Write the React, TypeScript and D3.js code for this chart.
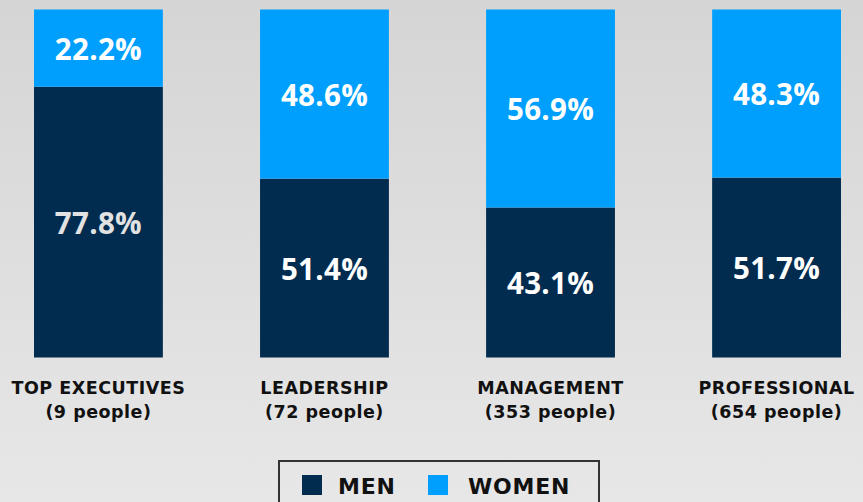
import React from "react";
import * as d3 from "d3";

const categories = ["TOP EXECUTIVES", "LEADERSHIP", "MANAGEMENT", "PROFESSIONAL"];
const subLabels = ["(9 people)", "(72 people)", "(353 people)", "(654 people)"];
const menValues = [77.8, 51.4, 43.1, 51.7];
const womenValues = [22.2, 48.6, 56.9, 48.3];
const seriesNames = ["MEN", "WOMEN"];

const W = 863;
const H = 502;
const MEN_COLOR = "#012c4f";
const WOMEN_COLOR = "#009ffd";
const FONT = "'Open Sans', 'DejaVu Sans', sans-serif";
const WIDE = "'DejaVu Sans', 'Open Sans', sans-serif";

export default function App() {
  const x = d3.scaleBand<string>().domain(categories).range([34, 841]).paddingInner(0.43).paddingOuter(0);
  const y = d3.scaleLinear().domain([0, 100]).range([357.5, 9.5]);

  const rows = categories.map((c, i) => ({ cat: c, men: menValues[i], women: womenValues[i] }));
  const stack = d3.stack<any>().keys(["men", "women"]);
  const series = stack(rows);
  const colors = [MEN_COLOR, WOMEN_COLOR];

  return (
    <svg width={W} height={H} style={{ position: "absolute", left: 0, top: 0, display: "block" }}>
      <defs>
        <linearGradient id="bg" x1="0" y1="0" x2="0" y2="1">
          <stop offset="0%" stopColor="#d5d5d5" />
          <stop offset="100%" stopColor="#e7e7e7" />
        </linearGradient>
      </defs>
      <rect x={0} y={0} width={W} height={H} fill="url(#bg)" />
      {series.map((s, si) => (
        <g key={si}>
          {s.map((d, i) => {
            const x0 = x(categories[i])!;
            const bw = x.bandwidth();
            const yTop = y(d[1]);
            const yBot = y(d[0]);
            const val = si === 0 ? menValues[i] : womenValues[i];
            const labelFill = si === 0 && i === 0 ? "#e2e2e2" : "#ffffff";
            return (
              <g key={i}>
                <rect x={x0} y={yTop} width={bw} height={yBot - yTop} fill={colors[si]} />
                <text
                  x={x0 + bw / 2}
                  y={(yTop + yBot) / 2 + 11.5}
                  textAnchor="middle"
                  fontFamily={FONT}
                  fontWeight={700}
                  fontSize={29.5}
                  letterSpacing={0.3}
                  fill={labelFill}
                >
                  {val.toFixed(1)}%
                </text>
              </g>
            );
          })}
        </g>
      ))}
      {categories.map((c, i) => {
        const cx = x(c)! + x.bandwidth() / 2;
        return (
          <g key={c}>
            <text x={cx} y={394} textAnchor="middle" fontFamily={WIDE} fontWeight={700} fontSize={17.5} letterSpacing={0.5} fill="#111">
              {c}
            </text>
            <text x={cx} y={417.5} textAnchor="middle" fontFamily={WIDE} fontWeight={700} fontSize={17.5} letterSpacing={0.5} fill="#111">
              {subLabels[i]}
            </text>
          </g>
        );
      })}
      <g>
        <rect x={279} y={461} width={320} height={60} fill="none" stroke="#333" strokeWidth={2} />
        <rect x={302} y={475} width={20} height={20} fill={MEN_COLOR} />
        <text x={338} y={494} fontFamily={WIDE} fontWeight={700} fontSize={22} letterSpacing={0.8} fill="#111">
          {seriesNames[0]}
        </text>
        <rect x={428} y={475} width={20} height={20} fill={WOMEN_COLOR} />
        <text x={468} y={494} fontFamily={WIDE} fontWeight={700} fontSize={22} letterSpacing={0.8} fill="#111">
          {seriesNames[1]}
        </text>
      </g>
    </svg>
  );
}
